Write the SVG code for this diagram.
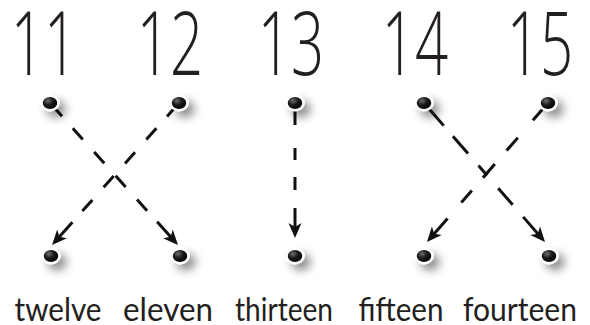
<svg xmlns="http://www.w3.org/2000/svg" width="590" height="325" viewBox="0 0 590 325">
<style>
.num{font-family:"Open Sans","Liberation Sans",sans-serif;font-weight:300;font-size:88px;fill:#231f20;text-anchor:middle}
.word{font-family:Lato,"Open Sans","Liberation Sans",sans-serif;font-weight:400;font-size:33px;fill:#231f20;text-anchor:middle}
.ln{fill:none;stroke:#111;stroke-width:3;marker-end:url(#ah)}
.dot{fill:url(#dg);stroke:#fff;stroke-width:2.5;filter:url(#sh)}
</style>
<defs>
<radialGradient id="dg" cx="38%" cy="35%" r="65%">
<stop offset="0" stop-color="#707070"/>
<stop offset="0.45" stop-color="#1a1a1a"/>
<stop offset="1" stop-color="#000"/>
</radialGradient>
<filter id="sh" x="-200%" y="-200%" width="500%" height="500%">
<feGaussianBlur in="SourceAlpha" stdDeviation="5"/>
<feOffset dx="6" dy="6" result="b"/>
<feFlood flood-color="#000" flood-opacity="0.45"/>
<feComposite in2="b" operator="in"/>
<feMerge><feMergeNode/><feMergeNode in="SourceGraphic"/></feMerge>
</filter>
<marker id="ah" markerUnits="userSpaceOnUse" markerWidth="24" markerHeight="24" viewBox="-12 -12 24 24" refX="0" refY="0" orient="auto">
<path d="M4,0 L-11,-6.5 L-7,0 L-11,6.5 Z" fill="#111"/>
</marker>
</defs>
<rect width="590" height="325" fill="#fff"/>
<g id="connectors">
<path class="ln" d="M50,103 L175.3,242" stroke-dasharray="18 16 15 17 15 17 15 17 15 15 60"/>
<path class="ln" d="M179,103 L54.7,242" stroke-dasharray="18 16 15 17 15 17 15 17 15 15 60"/>
<path class="ln" d="M295,103 L295,234" stroke-dasharray="22 23 12 17 13 18 60"/>
<path class="ln" d="M424,103 L542.4,239" stroke-dasharray="30 14 23 16 13 17 22 16 60"/>
<path class="ln" d="M548,103 L429.6,239" stroke-dasharray="23 23 17 18 18 17 16 21 60"/>
</g>
<g id="n11"><text class="num" transform="translate(44,75) scale(0.66,1)">11</text><ellipse class="dot" cx="50" cy="103" rx="8.5" ry="7.2"/></g>
<g id="n12"><text class="num" transform="translate(170,75) scale(0.66,1)">12</text><ellipse class="dot" cx="179" cy="103" rx="8.5" ry="7.2"/></g>
<g id="n13"><text class="num" transform="translate(291,75) scale(0.66,1)">13</text><ellipse class="dot" cx="295" cy="103" rx="8.5" ry="7.2"/></g>
<g id="n14"><text class="num" transform="translate(415,75) scale(0.66,1)">14</text><ellipse class="dot" cx="424" cy="103" rx="8.5" ry="7.2"/></g>
<g id="n15"><text class="num" transform="translate(540,75) scale(0.66,1)">15</text><ellipse class="dot" cx="548" cy="103" rx="8.5" ry="7.2"/></g>
<g id="w-twelve"><ellipse class="dot" cx="51" cy="256" rx="8.5" ry="7.2"/><text class="word" x="58" y="321" textLength="87" lengthAdjust="spacingAndGlyphs">twelve</text></g>
<g id="w-eleven"><ellipse class="dot" cx="180" cy="256" rx="8.5" ry="7.2"/><text class="word" x="168" y="321" textLength="90" lengthAdjust="spacingAndGlyphs">eleven</text></g>
<g id="w-thirteen"><ellipse class="dot" cx="295" cy="256" rx="8.5" ry="7.2"/><text class="word" x="284" y="321" textLength="98" lengthAdjust="spacingAndGlyphs">thirteen</text></g>
<g id="w-fifteen"><ellipse class="dot" cx="424" cy="256" rx="8.5" ry="7.2"/><text class="word" x="401" y="321" textLength="85" lengthAdjust="spacingAndGlyphs">fifteen</text></g>
<g id="w-fourteen"><ellipse class="dot" cx="549" cy="256" rx="8.5" ry="7.2"/><text class="word" x="520" y="321" textLength="114" lengthAdjust="spacingAndGlyphs">fourteen</text></g>
</svg>
